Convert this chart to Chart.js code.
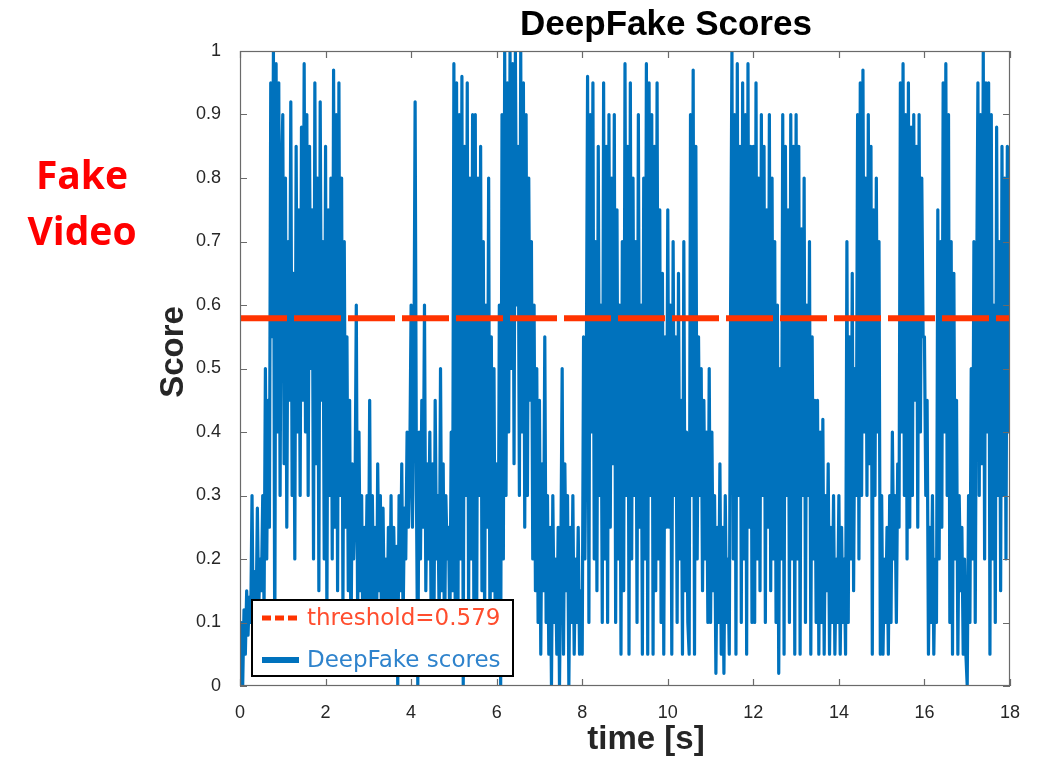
<!DOCTYPE html>
<html><head><meta charset="utf-8">
<script src="https://cdn.jsdelivr.net/npm/chart.js@4.4.0/dist/chart.umd.min.js"></script>
<style>html,body{margin:0;padding:0;background:#fff;}#wrap{position:relative;width:1043px;height:759px;}</style>
</head><body><div id="wrap"><canvas id="c" width="1043" height="759"></canvas></div>
<script>
const chartTitle = 'DeepFake Scores';
const sideLabel = ['Fake', 'Video'];
const xTitle = 'time [s]';
const yTitle = 'Score';
const seriesLabels = ['threshold=0.579', 'DeepFake scores'];
const threshold = 0.579;
const timeStep = 0.03125; // seconds between score samples
const xTicks = [0, 2, 4, 6, 8, 10, 12, 14, 16, 18];
const yTicks = [0, 0.1, 0.2, 0.3, 0.4, 0.5, 0.6, 0.7, 0.8, 0.9, 1];
// one row per half second (16 samples each)
const scores = [
  0.02,0.10,0.00,0.12,0.05,0.15,0.08,0.14,0.10,0.30,0.06,0.18,0.10,0.28,0.12,0.20,
  0.15,0.30,0.12,0.50,0.20,0.45,0.25,0.95,0.55,1.00,0.02,0.98,0.40,0.95,0.30,0.80,
  0.90,0.35,0.80,0.25,0.70,0.45,0.92,0.30,0.65,0.20,0.85,0.40,0.75,0.30,0.88,0.45,
  0.98,0.40,0.90,0.30,0.85,0.50,0.75,0.20,0.95,0.35,0.80,0.15,0.92,0.45,0.70,0.20,
  0.85,0.10,0.75,0.30,0.80,0.20,0.97,0.25,0.90,0.15,0.95,0.30,0.80,0.12,0.70,0.25,
  0.55,0.15,0.45,0.05,0.35,0.20,0.28,0.60,0.10,0.40,0.15,0.30,0.05,0.25,0.12,0.30,
  0.10,0.45,0.05,0.30,0.12,0.25,0.02,0.35,0.15,0.30,0.05,0.28,0.10,0.20,0.08,0.25,
  0.10,0.30,0.02,0.25,0.12,0.22,0.00,0.30,0.15,0.35,0.10,0.28,0.20,0.40,0.25,0.35,
  0.60,0.25,0.45,0.92,0.30,0.00,0.40,0.20,0.45,0.25,0.60,0.15,0.35,0.20,0.40,0.10,
  0.35,0.05,0.45,0.20,0.30,0.10,0.50,0.15,0.35,0.05,0.30,0.20,0.25,0.08,0.40,0.15,
  0.98,0.10,0.95,0.05,0.90,0.20,0.96,0.00,0.85,0.30,0.95,0.10,0.80,0.20,0.90,0.05,
  0.90,0.05,0.80,0.30,0.85,0.15,0.70,0.10,0.60,0.25,0.80,0.05,0.55,0.15,0.50,0.05,
  0.35,0.05,0.60,0.00,0.90,0.20,1.00,0.30,0.95,0.40,1.00,0.50,0.98,0.35,1.00,0.60,
  0.85,0.30,1.00,0.40,0.95,0.25,0.90,0.30,0.80,0.45,0.70,0.20,0.60,0.15,0.50,0.10,
  0.45,0.05,0.35,0.15,0.55,0.10,0.30,0.05,0.25,0.00,0.30,0.10,0.20,0.05,0.25,0.00,
  0.20,0.50,0.05,0.35,0.15,0.30,0.00,0.25,0.10,0.30,0.05,0.20,0.10,0.25,0.05,0.15,
  0.05,0.55,0.20,0.45,0.96,0.10,0.90,0.40,0.95,0.20,0.70,0.15,0.85,0.30,0.60,0.10,
  0.95,0.20,0.85,0.10,0.90,0.25,0.80,0.35,0.90,0.10,0.75,0.20,0.60,0.05,0.70,0.15,
  0.98,0.30,0.85,0.05,0.95,0.20,0.80,0.30,0.70,0.10,0.90,0.25,0.60,0.05,0.80,0.20,
  0.98,0.05,0.95,0.30,0.90,0.05,0.85,0.15,0.95,0.20,0.75,0.10,0.65,0.05,0.55,0.25,
  0.75,0.25,0.60,0.05,0.70,0.30,0.55,0.10,0.65,0.20,0.45,0.05,0.70,0.15,0.40,0.10,
  0.05,0.90,0.30,0.97,0.05,0.85,0.20,0.55,0.30,0.50,0.15,0.45,0.20,0.40,0.10,0.50,
  0.10,0.40,0.15,0.30,0.02,0.25,0.10,0.35,0.05,0.25,0.02,0.30,0.10,0.20,0.05,0.60,
  1.00,0.20,0.90,0.05,0.98,0.30,0.85,0.10,0.95,0.20,0.90,0.05,0.98,0.25,0.85,0.10,
  0.85,0.10,0.95,0.20,0.80,0.15,0.90,0.30,0.85,0.10,0.75,0.25,0.90,0.15,0.80,0.20,
  0.70,0.10,0.60,0.02,0.50,0.20,0.90,0.05,0.85,0.30,0.75,0.10,0.90,0.20,0.85,0.05,
  0.90,0.20,0.85,0.05,0.72,0.30,0.80,0.10,0.60,0.30,0.70,0.05,0.55,0.20,0.45,0.10,
  0.45,0.05,0.40,0.10,0.42,0.05,0.30,0.15,0.35,0.05,0.25,0.10,0.30,0.05,0.20,0.10,
  0.30,0.05,0.25,0.10,0.20,0.05,0.70,0.10,0.55,0.20,0.65,0.15,0.50,0.30,0.90,0.20,
  0.95,0.30,0.97,0.40,0.80,0.30,0.90,0.35,0.85,0.05,0.75,0.30,0.80,0.40,0.70,0.05,
  0.30,0.05,0.20,0.10,0.25,0.05,0.30,0.10,0.40,0.20,0.30,0.10,0.35,0.25,0.95,0.40,
  0.98,0.30,0.90,0.20,0.95,0.25,0.88,0.30,0.90,0.45,0.85,0.25,0.90,0.40,0.80,0.55,
  0.55,0.30,0.45,0.05,0.25,0.10,0.30,0.05,0.20,0.10,0.75,0.20,0.70,0.25,0.95,0.40,
  0.98,0.30,0.90,0.10,0.70,0.05,0.65,0.20,0.45,0.05,0.30,0.15,0.25,0.05,0.20,0.05,
  0.00,0.30,0.10,0.50,0.20,0.70,0.10,0.60,0.95,0.30,0.90,0.35,1.00,0.20,0.95,0.40,
  0.95,0.05,0.90,0.20,0.60,0.10,0.88,0.30,0.70,0.15,0.85,0.30,0.80,0.20,0.85,0.40,
  0.85
];

const scorePoints = scores.map((v, i) => ({ x: i * timeStep, y: v }));
const thresholdPoints = [{ x: xTicks[0], y: threshold }, { x: xTicks[xTicks.length - 1], y: threshold }];

const AX = '#262626';
const BLUE = '#0072BD';
const RED = '#FF3300';

const decor = {
  id: 'decor',
  afterDatasetsDraw(chart) {
    const ctx = chart.ctx, a = chart.chartArea;
    const xs = chart.scales.x, ys = chart.scales.y;
    ctx.save();
    ctx.strokeStyle = '#6a6a6a';
    ctx.lineWidth = 1.2;
    ctx.strokeRect(a.left + 0.5, a.top + 0.5, a.right - a.left - 1, a.bottom - a.top - 1);
    ctx.beginPath();
    xTicks.forEach(t => {
      const px = Math.round(xs.getPixelForValue(t)) + 0.5;
      ctx.moveTo(px, a.bottom); ctx.lineTo(px, a.bottom - 7);
      ctx.moveTo(px, a.top); ctx.lineTo(px, a.top + 7);
    });
    yTicks.forEach(t => {
      const py = Math.round(ys.getPixelForValue(t)) + 0.5;
      ctx.moveTo(a.left, py); ctx.lineTo(a.left + 7, py);
      ctx.moveTo(a.right, py); ctx.lineTo(a.right - 7, py);
    });
    ctx.stroke();

    ctx.fillStyle = '#000';
    ctx.font = 'bold 35px "Liberation Sans", Arial, sans-serif';
    ctx.textAlign = 'center'; ctx.textBaseline = 'middle';
    ctx.fillText(chartTitle, 666, 25);
    ctx.fillStyle = AX;
    ctx.font = 'bold 33px "Liberation Sans", Arial, sans-serif';
    ctx.fillText(xTitle, 646, 740);
    ctx.save();
    ctx.translate(174, 352); ctx.rotate(-Math.PI / 2);
    ctx.fillText(yTitle, 0, 0);
    ctx.restore();
    ctx.fillStyle = '#FF0000';
    ctx.font = 'bold 39px "Open Sans", sans-serif';
    ctx.fillText(sideLabel[0], 82, 178);
    ctx.fillText(sideLabel[1], 82, 234);

    const lx = 252, ly = 600, lw = 261, lh = 76;
    ctx.fillStyle = '#fff';
    ctx.fillRect(lx, ly, lw, lh);
    ctx.strokeStyle = '#000'; ctx.lineWidth = 2;
    ctx.strokeRect(lx, ly, lw, lh);
    const ds = chart.data.datasets;
    const rows = [618, 660];
    ds.forEach((d, i) => {
      ctx.save();
      ctx.strokeStyle = d.borderColor;
      ctx.lineWidth = i === 0 ? 5 : 6;
      ctx.setLineDash(i === 0 ? [9, 4] : []);
      ctx.beginPath(); ctx.moveTo(262, rows[i]); ctx.lineTo(299, rows[i]); ctx.stroke();
      ctx.restore();
      ctx.fillStyle = i === 0 ? '#FF4D2E' : '#2F83CC';
      ctx.font = '23px "DejaVu Sans", sans-serif';
      ctx.textAlign = 'left'; ctx.textBaseline = 'middle';
      ctx.fillText(d.label, 307, rows[i] + 1);
    });
    ctx.restore();
  }
};

new Chart(document.getElementById('c'), {
  type: 'line',
  data: {
    datasets: [
      { label: seriesLabels[0], data: thresholdPoints, borderColor: RED, borderWidth: 6,
        borderDash: [47, 7], pointRadius: 0, fill: false, order: 0 },
      { label: seriesLabels[1], data: scorePoints, borderColor: BLUE, borderWidth: 3.2,
        pointRadius: 0, fill: false, tension: 0, order: 1, borderJoinStyle: 'round' }
    ]
  },
  options: {
    responsive: false, animation: false, devicePixelRatio: 1,
    layout: { padding: { left: 0, right: 33, top: 51, bottom: 0 } },
    plugins: { legend: { display: false }, tooltip: { enabled: false } },
    scales: {
      x: {
        type: 'linear', min: 0, max: 18,
        afterFit: s => { s.height = 73; },
        afterBuildTicks: s => { s.ticks = xTicks.map(v => ({ value: v })); },
        grid: { display: false }, border: { display: false },
        ticks: { color: AX, font: { size: 18, family: '"Liberation Sans", Arial, sans-serif' }, padding: 8,
                 maxRotation: 0, callback: v => String(v) }
      },
      y: {
        min: 0, max: 1,
        afterFit: s => { s.width = 240; },
        afterBuildTicks: s => { s.ticks = yTicks.map(v => ({ value: v })); },
        grid: { display: false }, border: { display: false },
        ticks: { color: AX, font: { size: 18, family: '"Liberation Sans", Arial, sans-serif' }, padding: 11,
                 callback: v => String(+v.toFixed(1)) }
      }
    }
  },
  plugins: [decor]
});
</script></body></html>
